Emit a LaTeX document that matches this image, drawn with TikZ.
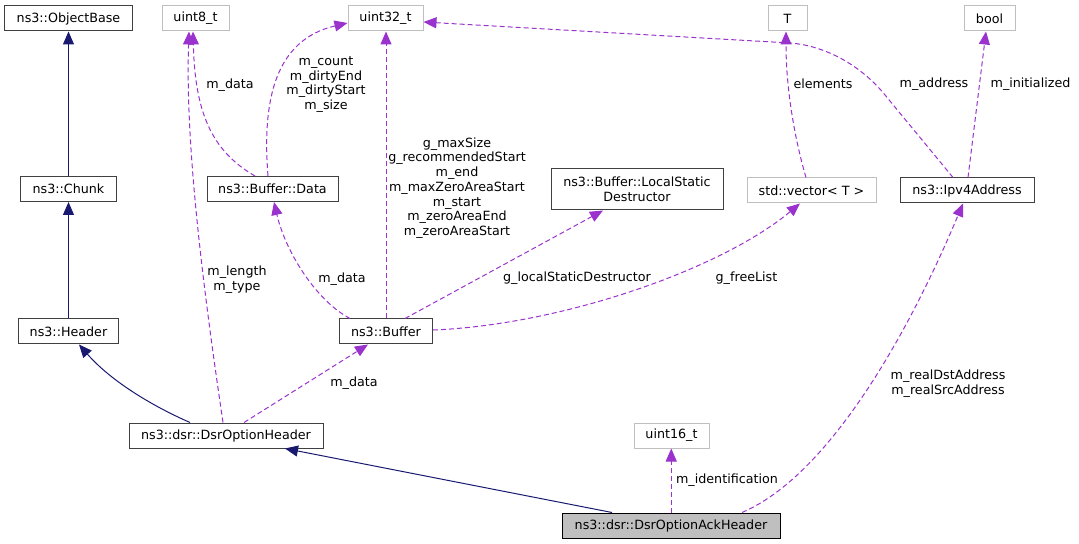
\documentclass[tikz,border=0pt]{standalone}
\usepackage{fontspec}
\setmainfont{DejaVu Sans}
\usetikzlibrary{arrows.meta}
\definecolor{navyedge}{RGB}{25,25,112}
\definecolor{purpedge}{RGB}{154,50,205}
\definecolor{clsborder}{RGB}{64,64,64}
\definecolor{extborder}{RGB}{191,191,191}
\definecolor{curfill}{RGB}{191,191,191}
\begin{document}
\begin{tikzpicture}[x=1bp,y=-1bp,
  every node/.style={font=\fontsize{12.7bp}{14.7bp}\selectfont, inner sep=0pt},
  cls/.style={draw=clsborder, fill=white, line width=1bp, minimum height=25bp, align=center},
  ext/.style={draw=extborder, fill=white, line width=1bp, minimum height=25bp},
  cur/.style={draw=black, fill=curfill, line width=1bp, minimum height=25bp},
  lbl/.style={align=center},
  inh/.style={draw=navyedge, line width=1bp, -{Triangle[length=13bp,width=11bp]}},
  use/.style={draw=purpedge, line width=1bp, dash pattern=on 5bp off 3bp, -{Triangle[length=13bp,width=11bp,fill=purpedge]}}
]
\useasboundingbox (0,0) rectangle (1079,544);
% nodes
\node[cls, minimum width=127bp] (objbase) at (68.5,18.5) {ns3::ObjectBase};
\node[ext, minimum width=67bp] (u8) at (195.5,18.5) {uint8\_t};
\node[ext, minimum width=75bp] (u32) at (385.5,18.5) {uint32\_t};
\node[ext, minimum width=39bp] (T) at (787.5,18.5) {T};
\node[ext, minimum width=51bp] (bool) at (989.5,18.5) {bool};
\node[cls, minimum width=95bp] (chunk) at (68.5,189) {ns3::Chunk};
\node[cls, minimum width=131bp] (data) at (272.5,189) {ns3::Buffer::Data};
\node[cls, minimum width=172bp, minimum height=41bp] (lsd) at (637,189.5) {ns3::Buffer::LocalStatic\\Destructor};
\node[ext, minimum width=129bp] (vec) at (811.5,190.5) {std::vector< T >};
\node[cls, minimum width=134bp] (ipv4) at (967,190.5) {ns3::Ipv4Address};
\node[cls, minimum width=100bp] (header) at (68.5,331.5) {ns3::Header};
\node[cls, minimum width=93bp] (buffer) at (386,331.5) {ns3::Buffer};
\node[cls, minimum width=194bp] (dsropt) at (226,435.5) {ns3::dsr::DsrOptionHeader};
\node[ext, minimum width=75bp] (u16) at (671.5,435.5) {uint16\_t};
\node[cur, minimum width=218bp] (ack) at (671,525.5) {ns3::dsr::DsrOptionAckHeader};
% inheritance
\draw[inh] (chunk.north) -- (objbase.south);
\draw[inh] (header.north) -- (chunk.south);
\draw[inh] (dsropt.north -| 190,0) .. controls (150,405) and (110,380) .. (header.south -| 79,0);
\draw[inh] (ack.north -| 612,0) -- (dsropt.south -| 285,0);
% usage
\draw[use] (ack.north -| 671.25,0) -- (u16.south -| 671.25,0);
\draw[use] (ack.north -| 742,0) .. controls (830,475) and (910,330) .. (ipv4.south -| 963,0);
\draw[use] (dsropt.north -| 244,0) -- (buffer.south -| 368,0);
\draw[use] (dsropt.north -| 223,0) .. controls (205,300) and (185,150) .. (u8.south -| 189,0);
\draw[use] (data.north -| 255,0) .. controls (210,150) and (195,110) .. (u8.south -| 193,0);
\draw[use] (data.north -| 268,0) .. controls (262,100) and (275,40) .. (u32.west |- 0,23);
\draw[use] (buffer.north -| 386,0) -- (u32.south -| 386,0);
\draw[use] (buffer.north -| 350,0) .. controls (315,300) and (285,250) .. (data.south -| 274,0);
\draw[use] (buffer.north -| 405,0) -- (lsd.south -| 603,0);
\draw[use] (buffer.east |- 0,330) .. controls (560,325) and (720,270) .. (vec.south -| 800,0);
\draw[use] (ipv4.north -| 953,0) -- (885,95) .. controls (865,70) and (830,46) .. (790,43) -- (u32.east |- 0,22);
\draw[use] (ipv4.north -| 968,0) -- (bool.south -| 986,0);
\draw[use] (vec.north -| 806,0) .. controls (795,140) and (786,90) .. (T.south -| 786,0);
% labels
\node[lbl] (l1) at (727,480) {m\_identification};
\node[lbl] (l2) at (948,383.5) {m\_realDstAddress\\m\_realSrcAddress};
\node[lbl] (l3) at (354,383) {m\_data};
\node[lbl] (l4) at (237,279.5) {m\_length\\m\_type};
\node[lbl] (l5) at (230,85) {m\_data};
\node[lbl] (l6) at (326,84.5) {m\_count\\m\_dirtyEnd\\m\_dirtyStart\\m\_size};
\node[lbl] (l7) at (457,188) {g\_maxSize\\g\_recommendedStart\\m\_end\\m\_maxZeroAreaStart\\m\_start\\m\_zeroAreaEnd\\m\_zeroAreaStart};
\node[lbl] (l8) at (342,279) {m\_data};
\node[lbl] (l9) at (577,278) {g\_localStaticDestructor};
\node[lbl] (l10) at (746.5,278) {g\_freeList};
\node[lbl] (l11) at (823,84) {elements};
\node[lbl] (l12) at (934,84) {m\_address};
\node[lbl] (l13) at (1030.5,84) {m\_initialized};
\end{tikzpicture}
\end{document}
